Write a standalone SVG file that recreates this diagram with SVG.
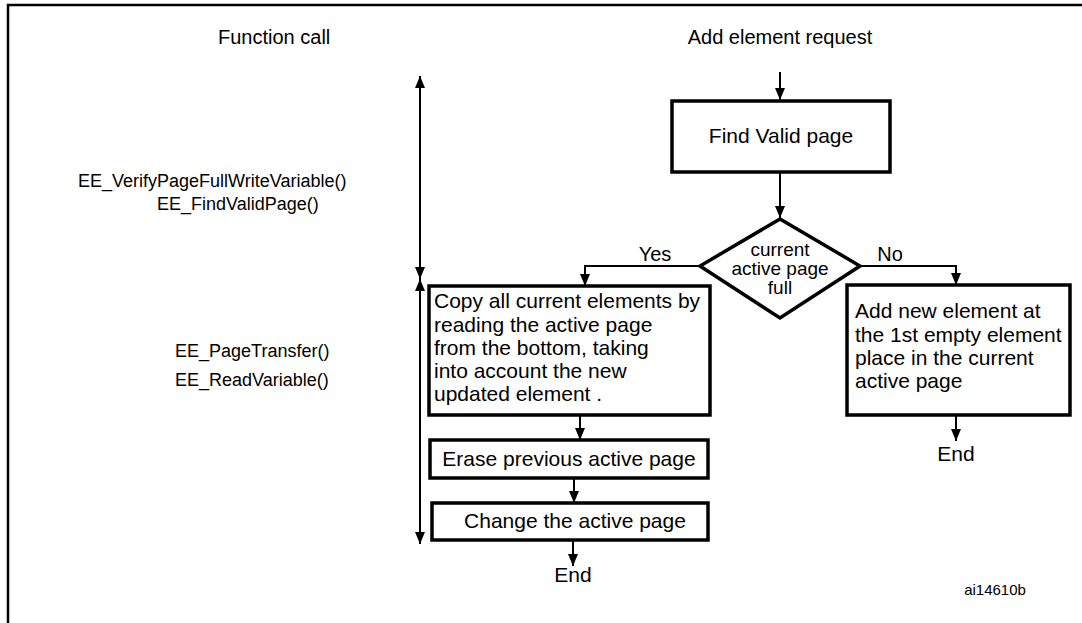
<svg xmlns="http://www.w3.org/2000/svg" width="1082" height="623" viewBox="0 0 1082 623">
<style>
text{font-family:"Liberation Sans",Arial,sans-serif;fill:#000}
.lbl{font-size:18px}
.t{font-size:21px}
.m{font-size:20px}
.box{fill:#fff;stroke:#000;stroke-width:3.5}
.c{fill:none;stroke:#000;stroke-width:2}
</style>
<defs>
<marker id="ah" markerUnits="userSpaceOnUse" markerWidth="12" markerHeight="14" refX="12" refY="6" orient="auto-start-reverse" viewBox="0 0 12 12">
<path d="M0,1 L12,6 L0,11 Z" fill="#000"/>
</marker>
</defs>
<rect width="1082" height="623" fill="#fff"/>
<path d="M8,623 V5 H1082" fill="none" stroke="#000" stroke-width="2.5"/>

<g id="labels">
<text class="m" x="218" y="44">Function call</text>
<text class="lbl" x="78" y="187">EE_VerifyPageFullWriteVariable()</text>
<text class="lbl" x="157" y="210">EE_FindValidPage()</text>
<text class="lbl" x="175" y="357">EE_PageTransfer()</text>
<text class="lbl" x="175" y="386">EE_ReadVariable()</text>
<text class="m" x="780" y="44" text-anchor="middle">Add element request</text>
<text class="m" x="655" y="261" text-anchor="middle">Yes</text>
<text class="m" x="890" y="261" text-anchor="middle">No</text>
<text x="995" y="595" text-anchor="middle" style="font-size:15px">ai14610b</text>
<text class="t" x="573" y="582" text-anchor="middle">End</text>
<text class="t" x="956" y="461" text-anchor="middle">End</text>
</g>

<g id="connectors">
<line class="c" x1="420" y1="279" x2="420" y2="76" marker-end="url(#ah)"/>
<line class="c" x1="420" y1="150" x2="420" y2="279" marker-end="url(#ah)"/>
<line class="c" x1="420" y1="400" x2="420" y2="279" marker-end="url(#ah)"/>
<line class="c" x1="420" y1="400" x2="420" y2="544" marker-end="url(#ah)"/>
<line class="c" x1="780" y1="72" x2="780" y2="100" marker-end="url(#ah)"/>
<line class="c" x1="780" y1="173" x2="780" y2="218" marker-end="url(#ah)"/>
<polyline class="c" points="700,266 585,266 585,286" marker-end="url(#ah)"/>
<polyline class="c" points="860,266 956,266 956,285" marker-end="url(#ah)"/>
<line class="c" x1="580" y1="416" x2="580" y2="440" marker-end="url(#ah)"/>
<line class="c" x1="574" y1="479" x2="574" y2="503" marker-end="url(#ah)"/>
<line class="c" x1="573" y1="541" x2="573" y2="566" marker-end="url(#ah)"/>
<line class="c" x1="956" y1="416" x2="956" y2="441" marker-end="url(#ah)"/>
</g>

<g id="find-valid-page">
<rect class="box" x="672" y="101" width="218" height="71"/>
<text class="t" x="781" y="143" text-anchor="middle">Find Valid page</text>
</g>

<g id="decision">
<polygon class="box" points="780,219 860,266 780,318 700,266"/>
<text x="780" y="256" text-anchor="middle" style="font-size:19px">current</text>
<text x="780" y="275" text-anchor="middle" style="font-size:19px">active page</text>
<text x="780" y="294" text-anchor="middle" style="font-size:19px">full</text>
</g>

<g id="copy-elements">
<rect class="box" x="429" y="286" width="281" height="129"/>
<text class="t" x="434" y="308">Copy all current elements by</text>
<text class="t" x="434" y="332">reading the active page</text>
<text class="t" x="434" y="355">from the bottom, taking</text>
<text class="t" x="434" y="378">into account the new</text>
<text class="t" x="434" y="401">updated element .</text>
</g>

<g id="erase-page">
<rect class="box" x="430" y="440" width="278" height="38"/>
<text class="t" x="569" y="466" text-anchor="middle">Erase previous active page</text>
</g>

<g id="change-page">
<rect class="box" x="432" y="503" width="276" height="37"/>
<text class="t" x="575" y="528" text-anchor="middle">Change the active page</text>
</g>

<g id="add-element">
<rect class="box" x="847" y="285" width="223" height="130"/>
<text class="t" x="855" y="318">Add new element at</text>
<text class="t" x="855" y="342">the 1st empty element</text>
<text class="t" x="855" y="365">place in the current</text>
<text class="t" x="855" y="388">active page</text>
</g>
</svg>
